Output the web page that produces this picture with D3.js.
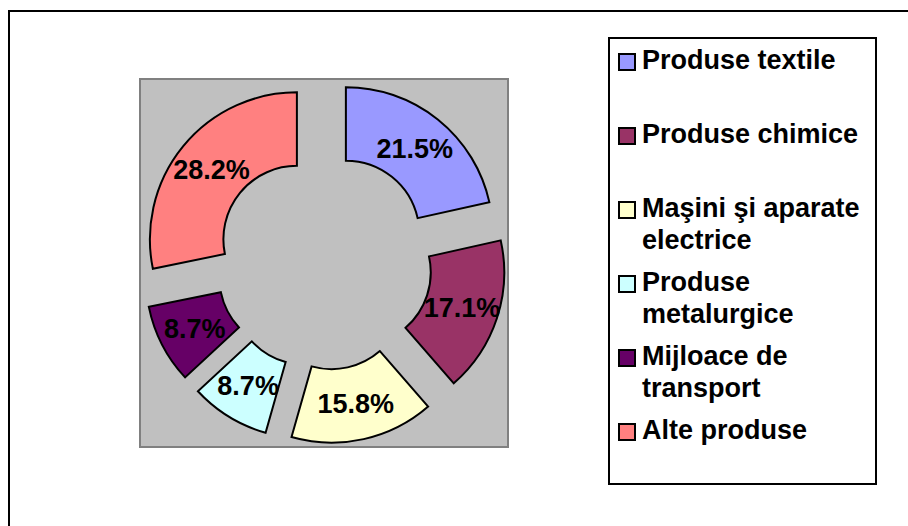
<!DOCTYPE html>
<html>
<head>
<meta charset="utf-8">
<script src="https://cdn.jsdelivr.net/npm/d3@7"></script>
<style>
  html, body { margin: 0; padding: 0; background: #fff; }
  svg { display: block; }
</style>
</head>
<body>
<svg id="chart" width="908" height="526"></svg>
<script>
// ---- data ----
const categories = ["Produse textile", "Produse chimice", "Maşini şi aparate electrice",
                    "Produse metalurgice", "Mijloace de transport", "Alte produse"];
const values = [21.5, 17.1, 15.8, 8.7, 8.7, 28.2];
const labels = ["21.5%", "17.1%", "15.8%", "8.7%", "8.7%", "28.2%"];
const palette = ["#9999FF", "#993366", "#FFFFCC", "#CCFFFF", "#660066", "#FF8080"];

const svg = d3.select("#chart");
const font = "'Liberation Sans', Arial, sans-serif";

// outer frame (extends beyond the picture on right and bottom)
svg.append("rect")
  .attr("x", 9).attr("y", 11).attr("width", 920).attr("height", 540)
  .attr("fill", "#fff").attr("stroke", "#000").attr("stroke-width", 2);

// plot area
const plot = { x: 140, y: 79, w: 368, h: 368 };
svg.append("rect")
  .attr("x", plot.x).attr("y", plot.y).attr("width", plot.w).attr("height", plot.h)
  .attr("fill", "#C0C0C0").attr("stroke", "#808080").attr("stroke-width", 2);

const cx = 324, cy = 261.5;
const R = 147, r = 73.5, explode = 35;

const pie = d3.pie().sort(null).value(d => d).startAngle(0).endAngle(2 * Math.PI);
const arcs = pie(values);
const arc = d3.arc().innerRadius(r).outerRadius(R);

const g = svg.append("g").attr("transform", `translate(${cx},${cy})`);

const slices = g.selectAll("g.slice").data(arcs).join("g")
  .attr("class", "slice")
  .attr("transform", d => {
    const m = (d.startAngle + d.endAngle) / 2;
    return `translate(${explode * Math.sin(m)},${-explode * Math.cos(m)})`;
  });

slices.append("path")
  .attr("d", arc)
  .attr("fill", (d, i) => palette[i])
  .attr("stroke", "#000")
  .attr("stroke-width", 2)
  .attr("stroke-linejoin", "miter");

slices.append("text")
  .attr("transform", d => `translate(${arc.centroid(d)})`)
  .attr("text-anchor", "middle")
  .attr("dy", "0.36em")
  .attr("font-family", font)
  .attr("font-weight", "bold")
  .attr("font-size", 27)
  .attr("fill", "#000")
  .text((d, i) => labels[i]);

// legend
const leg = { x: 609, y: 38, w: 267, h: 446 };
svg.append("rect")
  .attr("x", leg.x).attr("y", leg.y).attr("width", leg.w).attr("height", leg.h)
  .attr("fill", "#fff").attr("stroke", "#000").attr("stroke-width", 2);

const firstBase = 69, step = 74, lineH = 31.5, textX = 642, maxW = 232, sw = 16;

categories.forEach((name, i) => {
  const base = firstBase + i * step;
  svg.append("rect")
    .attr("x", 619).attr("y", base - sw + 1).attr("width", sw).attr("height", sw)
    .attr("fill", palette[i]).attr("stroke", "#000").attr("stroke-width", 2);

  const t = svg.append("text")
    .attr("x", textX).attr("y", base)
    .attr("font-family", font).attr("font-weight", "bold")
    .attr("font-size", 27)
    .attr("fill", "#000");

  // word wrap
  const words = name.split(" ");
  let line = [];
  let ts = t.append("tspan").attr("x", textX).attr("y", base);
  let lineNo = 0;
  words.forEach(w => {
    line.push(w);
    ts.text(line.join(" "));
    if (ts.node().getComputedTextLength() > maxW && line.length > 1) {
      line.pop();
      ts.text(line.join(" "));
      line = [w];
      lineNo++;
      ts = t.append("tspan").attr("x", textX).attr("y", base + lineNo * lineH).text(w);
    }
  });
});
</script>
</body>
</html>
